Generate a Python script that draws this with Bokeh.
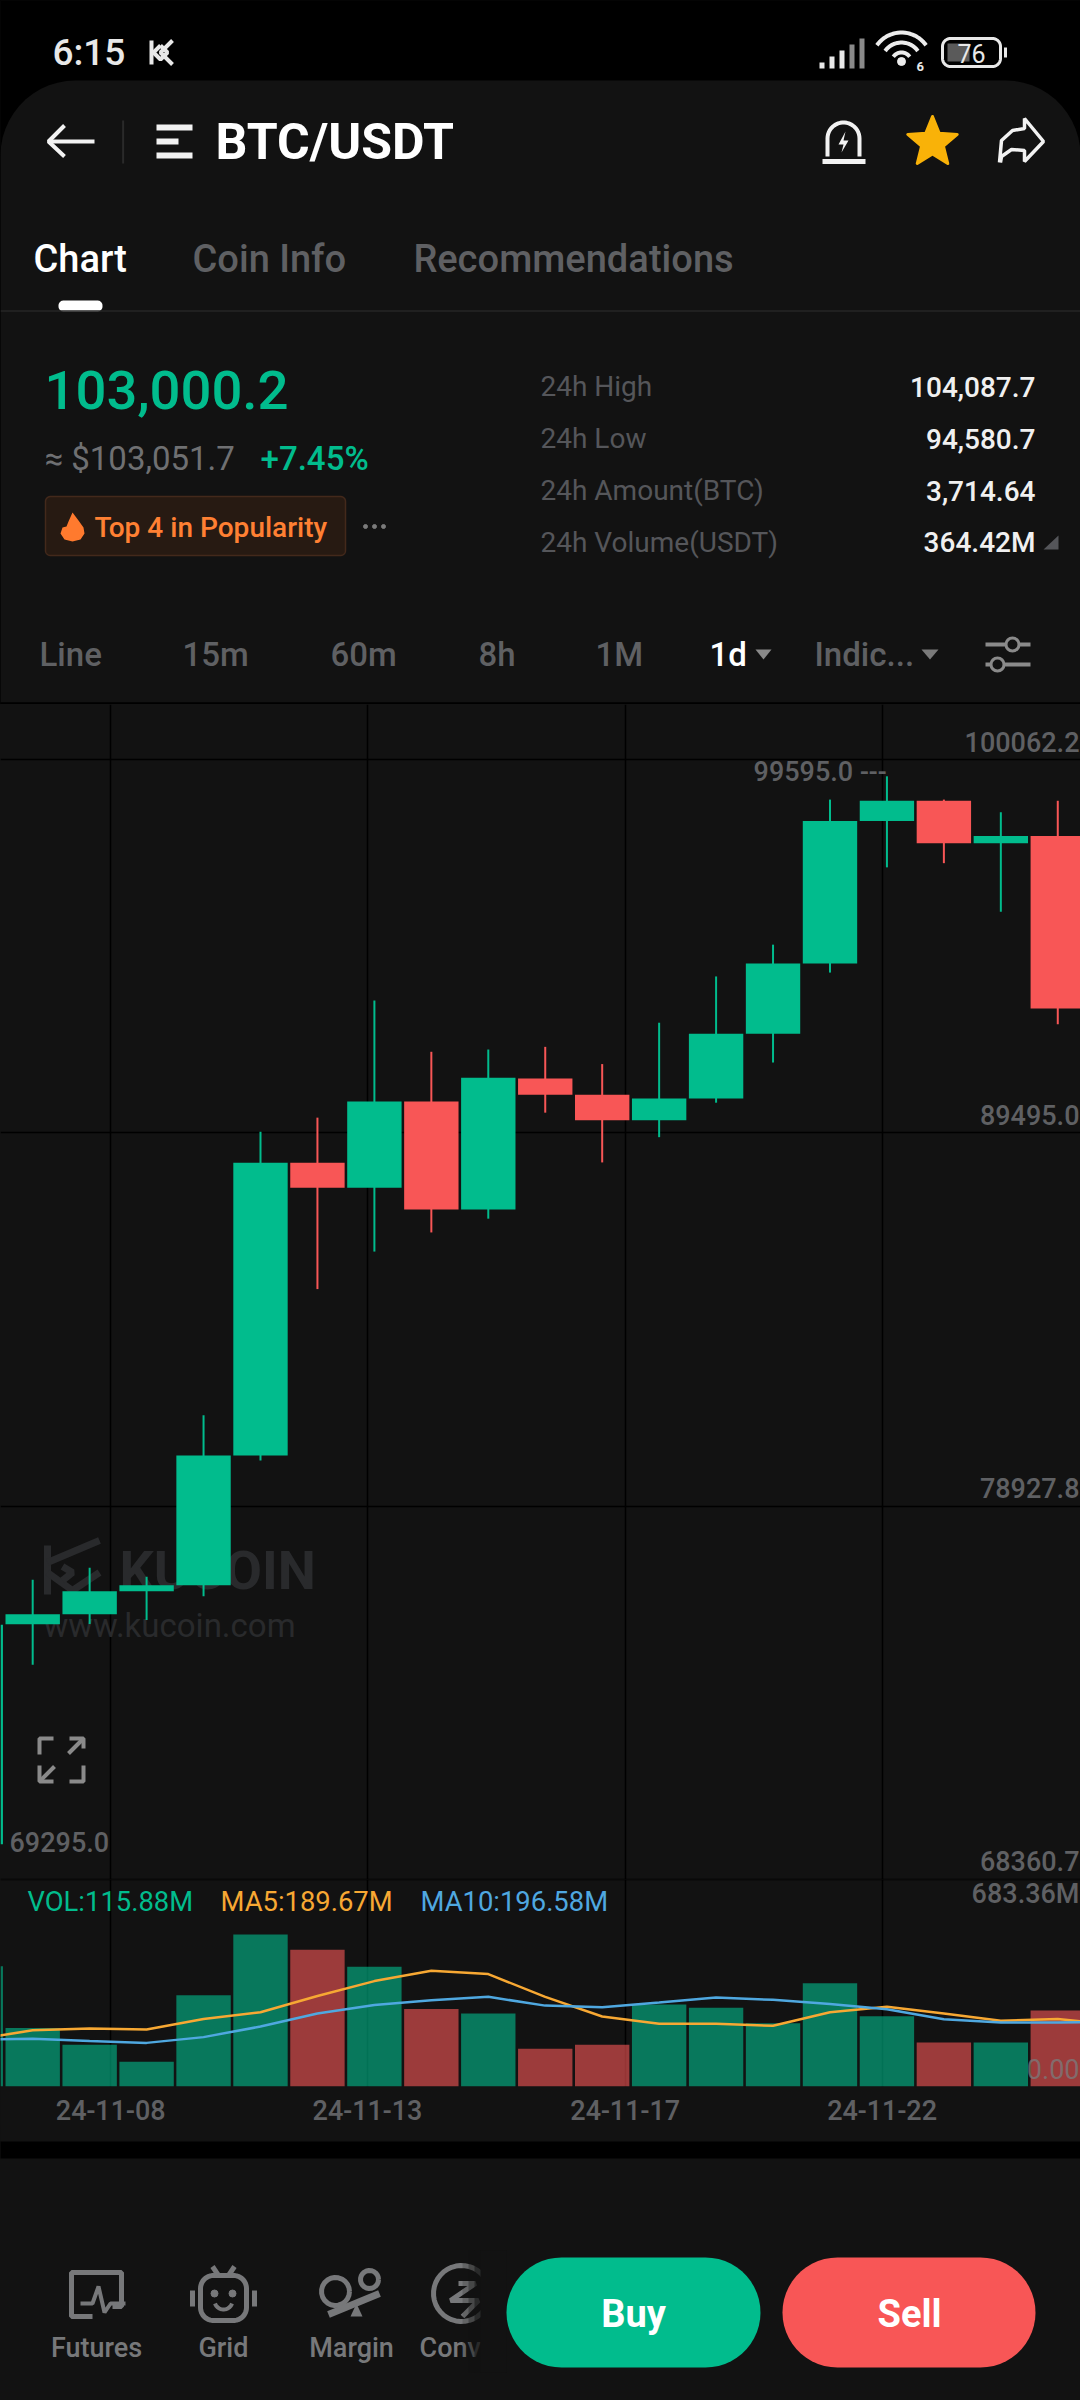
import numpy as np
from bokeh.plotting import figure
from bokeh.layouts import column
from bokeh.models import Range1d, FixedTicker
from bokeh.core.properties import value
from bokeh.embed import file_html
from bokeh.resources import INLINE

# ---------- chart data ----------
dates = ["24-11-06","24-11-07","24-11-08","24-11-09","24-11-10","24-11-11","24-11-12","24-11-13","24-11-14","24-11-15",
         "24-11-16","24-11-17","24-11-18","24-11-19","24-11-20","24-11-21","24-11-22","24-11-23","24-11-24","24-11-25"]
open_ = [69350,75581,75862,76513,76686,80360,88649,87945,90384,87327,91034,90578,89852,90470,92302,94296,98328,98902,97699,97905]
close = [75570,75862,76513,76686,80360,88649,87945,90384,87327,91055,90578,89852,90470,92302,94296,98328,98902,97699,97905,93017]
high  = [76400,76838,77184,76924,81498,89527,89928,93245,91793,91857,91933,91445,92616,93927,94827,98935,99595,98935,98577,98902]
low   = [69295,74432,75591,75700,76372,80219,85073,86135,86677,87067,90069,88660,89375,90351,91489,94036,97016,97135,95759,92573]
volume = [397,193,137.5,82,301.5,502,451.5,395,256,241,125,137.5,271,260,209,340.5,232,145,145,251]
ma5  = [156,185.4,191.7,188,223,245,299,348,382,371,296,231,207,207,200.5,245,263.6,241,217,223,204]
ma10 = [154,157.7,150,144,163,198,241,269,285,296,267,262,277.5,294,286,272,255,222,211,211,214]
date_ticks = [2.3696,6.879,11.404,15.915]
date_labels = ["24-11-08","24-11-13","24-11-17","24-11-22"]
price_ticks = [100062.2,89495.0,78927.8,68360.7]
price_labels = ["100062.2","89495.0","78927.8","68360.7"]
vol_top = 683.36
max_label = "99595.0 ---"
min_label = "69295.0"

GREEN, RED, BG = "#01BC8D", "#F85656", "#121212"
GREY = "#5f6063"
FONT = value("Roboto")
MED = value("Roboto Medium")
LEFT, RIGHT = 0, 1080
I0, I1 = 0.4346, 19.399

def base(h, xr, yr, **kw):
    p = figure(width=1080, height=h, x_range=xr, y_range=yr, output_backend="svg", toolbar_location=None,
               background_fill_color=BG, border_fill_color=BG, outline_line_color=None,
               min_border=0, min_border_left=0, min_border_right=0, min_border_top=0,
               min_border_bottom=kw.pop("mb", 0), styles={"background-color": kw.pop("host", BG)})
    return p

def bare(p):
    p.xaxis.visible = False
    p.yaxis.visible = False
    p.xgrid.visible = False
    p.ygrid.visible = False

def T(p, x, y, s, size, color, align="left", bold=False, med=False, **kw):
    p.text(x=[x], y=[y], text=[s], text_font=MED if med else FONT, text_font_size=f"{size}px",
           text_font_style="bold" if bold else "normal", text_color=color,
           text_align=align, text_baseline="middle", **kw)

def rr(x0, y0, x1, y1, r):
    xs, ys = [], []
    for cx, cy, a0 in [(x1-r, y0+r, -90), (x1-r, y1-r, 0), (x0+r, y1-r, 90), (x0+r, y0+r, 180)]:
        t = np.radians(np.linspace(a0, a0+90, 14))
        xs += list(cx + r*np.cos(t)); ys += list(cy + r*np.sin(t))
    return xs, ys

def arc(cx, cy, r, a0, a1, n=24):
    t = np.radians(np.linspace(a0, a1, n))
    return list(cx + r*np.cos(t)), list(cy + r*np.sin(t))

# ---------- header ----------
top = base(704, Range1d(LEFT, RIGHT), Range1d(704, 0), host="#000000")
bare(top)
top.border_fill_color = "#000000"
top.quad(left=[-2], right=[1082], top=[-2], bottom=[706], color="#000000", line_color=None)
x, y = rr(0, 80, 1080, 800, 75)
top.patch(x, y, color=BG, line_color=None)
W = "#f2f2f2"
T(top, 52, 52, "6:15", 37, "#e8e8e8", med=True)
# small K mark
top.multi_line([[151,151],[172,160,172],[160,167,160,153,160]], [[40,64],[40,52,64],[45,52,59,52,45]], line_color="#e8e8e8", line_width=4)
# signal
for i, (bx, h, c) in enumerate([(820,6,"#e8e8e8"),(830,12,"#e8e8e8"),(840,18,"#e8e8e8"),(850,24,"#8a8a8a"),(860,30,"#8a8a8a")]):
    top.quad(left=[bx-1], right=[bx+4], top=[68-h], bottom=[68], color=c, line_color=None)
# wifi
for r in (10, 20, 30):
    ax, ay = arc(901, 62, r, 215, 325)
    top.line(ax, ay, line_color="#ececec", line_width=4)
top.scatter([901], [61], size=8, color="#ececec")
T(top, 916, 66, "6", 13, "#e8e8e8", bold=True)
# battery
x, y = rr(942, 38, 1000, 66, 8)
top.patch(x, y, fill_color=None, line_color="#e8e8e8", line_width=3)
top.quad(left=[947], right=[969], top=[43], bottom=[61], color="#5a5a5a", line_color=None)
top.line([1005,1005],[47,57], line_color="#e8e8e8", line_width=3)
T(top, 971, 53, "76", 25, "#e8e8e8", "center")
# nav row
top.multi_line([[48,94],[64,48,64]], [[141,141],[125,141,156]], line_color=W, line_width=4)
top.line([122.6,122.6],[120,163], line_color="#2a2a2a", line_width=2)
top.multi_line([[156,192],[156,178],[156,192]], [[127,127],[141,141],[155,155]], line_color=W, line_width=6)
T(top, 215, 141, "BTC/USDT", 50, "#ffffff", bold=True)
# alarm
ax, ay = arc(843, 138, 16, 180, 360)
top.line([827]+ax+[859], [156]+ay+[156], line_color=W, line_width=4)
top.line([822,865],[161,161], line_color=W, line_width=5)
top.patch([845,838,843,841,848,843], [131,144,144,152,140,140], color=W, line_color=None)
# star
ang = np.radians(np.arange(-90, 270, 36))
rad = np.array([26,11.5]*5)
top.patch(list(932+rad*np.cos(ang)), list(142+rad*np.sin(ang)), color="#F9B208", line_color="#F9B208", line_width=3, line_join="round")
# share
top.line([999,1001,1012,1024,1024,1043,1024,1024,1011,1001,1000], [162,140,130,128,118,141,161,150,149,156,162], line_color=W, line_width=3.5)
# tabs
T(top, 33, 258, "Chart", 38, "#ffffff", med=True)
T(top, 192, 258, "Coin Info", 38, GREY, med=True)
T(top, 413, 258, "Recommendations", 38, GREY, med=True)
x, y = rr(58, 300, 102, 311, 5)
top.patch(x, y, color="#ffffff", line_color=None)
top.line([0,1080],[310.5,310.5], line_color="#262626", line_width=1.5)
# price block
T(top, 44, 389, "103,000.2", 54.5, GREEN, med=True)
T(top, 44, 458, "≈ $103,051.7", 33, "#6f7072")
T(top, 260, 458, "+7.45%", 33, GREEN, med=True)
x, y = rr(45, 496, 345, 555, 5)
top.patch(x, y, fill_color="#271a12", line_color="#43291b", line_width=1.5)
fx = [72,78,83,84,80,72,64,60,62,66,68,72]
fy = [512,520,527,533,539,541,539,533,527,526,521,512]
top.patch(fx, fy, color="#FF7A2E", line_color=None)
T(top, 94, 527, "Top 4 in Popularity", 28, "#FF8033", med=True)
top.scatter([365,374,383],[526,526,526], size=4, color="#7a7a7a")
labels_r = ["24h High","24h Low","24h Amount(BTC)","24h Volume(USDT)"]
values_r = ["104,087.7","94,580.7","3,714.64","364.42M"]
for yy, a, b in zip((386,438,490,542), labels_r, values_r):
    T(top, 540, yy, a, 28, "#55565a")
    T(top, 1035, yy, b, 28, "#f0f0f0", "right", med=True)
top.patch([1058,1058,1043],[535,549,549], color="#55565a", line_color=None)
# interval row
for xx, s, c in [(39,"Line",GREY),(182,"15m",GREY),(330,"60m",GREY),(478,"8h",GREY),(595,"1M",GREY),(709,"1d","#ffffff"),(814,"Indic...",GREY)]:
    T(top, xx, 654, s, 33, c, med=True)
top.patch([755,771,763],[649,649,659], color="#8a8a8a", line_color=None)
top.patch([921,938,929.5],[649,649,659], color="#7a7a7a", line_color=None)
top.multi_line([[985,1030],[985,1030]], [[644,644],[664,664]], line_color="#8a8a8a", line_width=4)
top.scatter([1012,997],[644,664], size=13, fill_color=BG, line_color="#8a8a8a", line_width=3)
top.line([-2,1082],[703,703], line_color="#000000", line_width=2.5)

# ---------- price panel ----------
pmax = 100062.2 + (759.3-704)*28.32
pmin = 100062.2 - (1879-759.3)*28.32
price = base(1175, Range1d(I0, I1), Range1d(pmin, pmax))
price.xaxis.visible = False
price.yaxis.visible = False
price.xgrid.ticker = FixedTicker(ticks=date_ticks)
price.ygrid.ticker = FixedTicker(ticks=price_ticks)
for g in (price.xgrid, price.ygrid):
    g.grid_line_color = "#000000"
    g.grid_line_width = 1.5
price.extra_x_ranges = {"px": Range1d(LEFT, RIGHT)}
price.extra_y_ranges = {"py": Range1d(1879, 704)}
WM = "#292a2c"
wm = dict(x_range_name="px", y_range_name="py")
T(price, 119, 1570, "KUCOIN", 54, WM, bold=True, **wm)
T(price, 43, 1625, "www.kucoin.com", 33, WM, **wm)
price.multi_line([[47,47],[47,99],[47,72,99],[62,72,62]], [[1545,1594],[1562,1540],[1572,1590,1572],[1566,1572,1580]], line_color=WM, line_width=7, **wm)

idx = np.arange(len(dates))
op, cl, hi, lo = map(np.array, (open_, close, high, low))
colors = [GREEN if c >= o else RED for o, c in zip(op, cl)]
price.segment(idx, hi, idx, lo, line_color=colors, line_width=2)
price.vbar(idx, width=0.955, bottom=np.minimum(op, cl), top=np.maximum(op, cl), fill_color=colors, line_color=None)
for yv, s in zip(price_ticks, price_labels):
    T(price, 1079, yv, s, 27, GREY, "right", med=True, x_range_name="px", y_offset=-18)
imax = int(np.argmax(hi))
price.text(x=[886], y=[hi[imax]], text=[max_label], text_font=MED, text_font_size="27px", text_color=GREY,
           text_align="right", text_baseline="middle", y_offset=-4, x_range_name="px")
T(price, 9, float(lo[0]), min_label, 27, GREY, med=True, x_range_name="px", y_offset=-4)
E = "#8a8a8a"
price.multi_line([[39,39,53],[83,83,69],[39,39,53],[83,83,69],[83,68],[39,54]],
                 [[1754,1738,1738],[1748,1738,1738],[1765,1781,1781],[1765,1781,1781],[1738,1753],[1781,1766]],
                 line_color=E, line_width=4, **wm)

# ---------- volume panel ----------
vol = base(262, Range1d(I0, I1), Range1d(0, vol_top), mb=55)
vol.yaxis.visible = False
vol.ygrid.visible = False
vol.xgrid.ticker = FixedTicker(ticks=date_ticks)
vol.xgrid.grid_line_color = "#000000"
vol.xgrid.grid_line_width = 1.5
ax = vol.xaxis[0]
ax.ticker = FixedTicker(ticks=date_ticks)
ax.major_label_overrides = dict(zip(date_ticks, date_labels))
ax.axis_line_color = None
ax.major_tick_line_color = None
ax.minor_tick_line_color = None
ax.major_label_standoff = 7
ax.major_label_text_font = "Roboto Medium"
ax.major_label_text_font_size = "27px"
ax.major_label_text_color = GREY
vol.vbar(idx, width=0.955, bottom=0, top=volume, fill_color=colors, fill_alpha=0.6, line_color=None)
mx = np.arange(len(ma5))
vol.line(mx, ma5, line_color="#F7A833", line_width=2.5)
vol.line(mx, ma10, line_color="#4FA8E0", line_width=2.5)
vol.extra_x_ranges = {"px": Range1d(LEFT, RIGHT)}
vol.extra_y_ranges = {"py": Range1d(2086, 1879)}
T(vol, 27, 1901, "VOL:115.88M", 27.4, GREEN, x_range_name="px", y_range_name="py")
T(vol, 220, 1901, "MA5:189.67M", 27.4, "#F7A833", x_range_name="px", y_range_name="py")
T(vol, 420, 1901, "MA10:196.58M", 27.4, "#4FA8E0", x_range_name="px", y_range_name="py")
T(vol, 1079, vol_top, "683.36M", 27, GREY, "right", med=True, x_range_name="px", y_offset=14)
T(vol, 1079, 0, "0.00", 27, "#7a7b7d", "right", x_range_name="px", y_offset=-18, text_alpha=0.75)
vol.line([I0, I1], [vol_top, vol_top], line_color="#000000", line_width=1.5)

# ---------- footer ----------
foot = base(259, Range1d(LEFT, RIGHT), Range1d(2400, 2141))
bare(foot)
foot.quad(left=[-2], right=[1082], top=[2139], bottom=[2158], color="#000000", line_color=None)
IC = "#77787a"
# futures
foot.line([92,71,71,121,121,112], [2316,2316,2272,2272,2306,2306], line_color=IC, line_width=5)
foot.line([80,92,98,104,110,125], [2303,2303,2286,2312,2303,2303], line_color=IC, line_width=4)
# grid
x, y = rr(200, 2275, 246, 2320, 13)
foot.patch(x, y, fill_color=None, line_color=IC, line_width=5)
foot.multi_line([[212,218],[234,228],[192,192],[254,254]], [[2266,2275],[2266,2275],[2290,2306],[2290,2306]], line_color=IC, line_width=5)
foot.scatter([214,232],[2293,2293], size=7, color=IC)
ax2, ay2 = arc(223, 2300, 9, 20, 160)
foot.line(ax2, ay2, line_color=IC, line_width=4)
# margin
ax2, ay2 = arc(335, 2291, 14, 0, 360)
foot.line(ax2, ay2, line_color=IC, line_width=5)
ax2, ay2 = arc(369, 2279, 9, 0, 360)
foot.line(ax2, ay2, line_color=IC, line_width=5)
foot.line([328,379],[2314,2293], line_color=IC, line_width=7)
foot.patch([350,362,356],[2316,2316,2303], color=IC, line_color=None)
# convert
ax2, ay2 = arc(461, 2293, 28, 0, 360, 40)
foot.line(ax2, ay2, line_color=IC, line_width=5)
foot.line([458,475,450,478,462],[2283,2283,2300,2300,2316], line_color=IC, line_width=5)
for xx, s in [(96,"Futures"),(223,"Grid"),(351,"Margin")]:
    T(foot, xx, 2347, s, 27, IC, "center", med=True)
T(foot, 419, 2347, "Conv", 27, IC, med=True)
for x0, a in [(462,.2),(468,.35),(474,.55),(480,1)]:
    foot.quad(left=[x0], right=[506], top=[2250], bottom=[2372], color=BG, fill_alpha=a, line_color=None)
x, y = rr(506, 2257, 760, 2367, 55)
foot.patch(x, y, color=GREEN, line_color=None)
x, y = rr(782, 2257, 1035, 2367, 55)
foot.patch(x, y, color=RED, line_color=None)
T(foot, 633, 2313, "Buy", 38, "#ffffff", "center", bold=True)
T(foot, 909, 2313, "Sell", 38, "#ffffff", "center", bold=True)

page = column(top, price, vol, foot, spacing=0, styles={"background-color": BG})
open("out.html", "w").write(file_html(page, INLINE))
